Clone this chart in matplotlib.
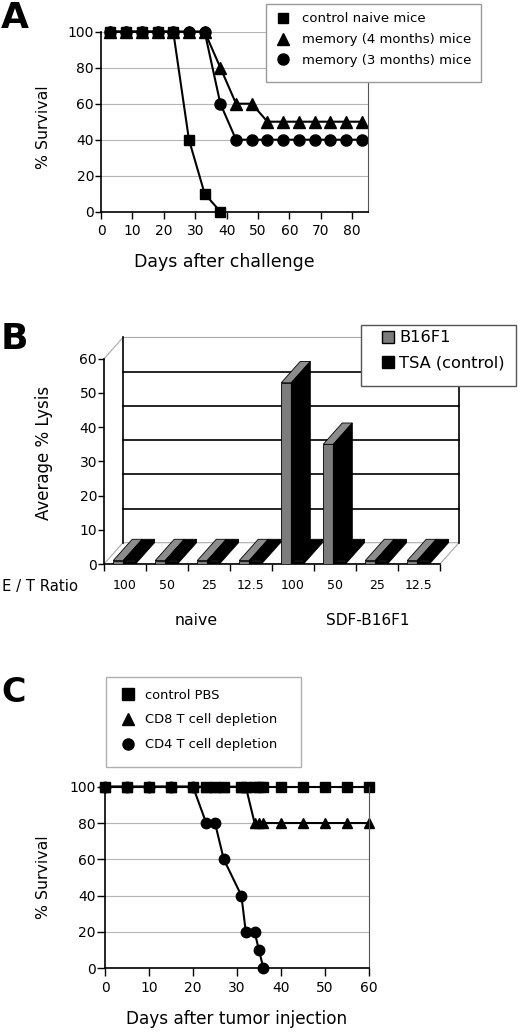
import matplotlib
matplotlib.use("Agg")
import matplotlib.pyplot as plt
from matplotlib.patches import Polygon, Rectangle
from matplotlib.lines import Line2D

plt.rcParams['font.family'] = ['DejaVu Sans']

# ---------------- data ----------------
# A: survival after challenge
days_a = [3, 8, 13, 18, 23, 28, 33, 38, 43, 48, 53, 58, 63, 68, 73, 78, 83]
control_naive = [100, 100, 100, 100, 100, 40, 10, 0]
memory_4m = [100, 100, 100, 100, 100, 100, 100, 80, 60, 60, 50, 50, 50, 50, 50, 50, 50]
memory_3m = [100, 100, 100, 100, 100, 100, 100, 60, 40, 40, 40, 40, 40, 40, 40, 40, 40]

# B: average % lysis
et_ratios = ['100', '50', '25', '12.5', '100', '50', '25', '12.5']
groups = ['naive', 'SDF-B16F1']
lysis_b16f1 = [1, 1, 1, 1, 53, 35, 1, 1]
lysis_tsa = [1, 1, 1, 1, 1, 1, 1, 1]

# C: survival after tumor injection
days_c = [0, 5, 10, 15, 20, 23, 25, 27, 31, 32, 34, 35, 36, 40, 45, 50, 55, 60]
control_pbs = [100] * 18
cd8_depl = [100, 100, 100, 100, 100, 100, 100, 100, 100, 100, 80, 80, 80, 80, 80, 80, 80, 80]
cd4_depl = [100, 100, 100, 100, 100, 80, 80, 60, 40, 20, 20, 10, 0]

W, H = 520, 1033
fig = plt.figure(figsize=(W / 100, H / 100), dpi=100)


def rect(l, t, r, b):
    return [l / W, 1 - b / H, (r - l) / W, (b - t) / H]


def fx(px):
    return px / W


def fy(py):
    return 1 - py / H


def frame(l, t, r, b, ec='#9a9a9a'):
    fig.patches.append(Rectangle((fx(l), fy(b)), (r - l) / W, (b - t) / H,
                                 transform=fig.transFigure, facecolor='white',
                                 edgecolor=ec, lw=1, zorder=1))


def survival_axes(ax, xmax, xstep):
    ax.set_ylim(0, 100)
    ax.set_yticks(range(0, 101, 20))
    ax.set_xticks(range(0, xmax + 1, xstep))
    ax.grid(axis='y', color='#b5b5b5', lw=0.8)
    ax.set_axisbelow(True)
    ax.spines['top'].set_visible(False)
    ax.spines['right'].set_color('#555555')
    for s in ['left', 'bottom']:
        ax.spines[s].set_linewidth(1.2)
    ax.tick_params(axis='x', direction='out', length=5, width=1, pad=4, labelsize=10)
    ax.tick_params(axis='y', direction='out', length=4, width=1, pad=1, labelsize=10)


# ---------------- panel A ----------------
ax_a = fig.add_axes(rect(101, 31.7, 368, 211.7))
ax_a.set_xlim(0, 85)
survival_axes(ax_a, 80, 10)
ax_a.plot(days_a, memory_4m, '-^', color='black', ms=8, lw=1.5, clip_on=False)
ax_a.plot(days_a, memory_3m, '-o', color='black', ms=8, lw=1.5, clip_on=False)
ax_a.plot(days_a[:len(control_naive)], control_naive, '-s', color='black', ms=7.5,
          lw=1.5, clip_on=False)
fig.text(fx(43), fy(127), '% Survival', rotation=90, ha='center', va='center', fontsize=11.3)
fig.text(fx(224), fy(262), 'Days after challenge', ha='center', va='center', fontsize=12.5)
fig.text(fx(1), fy(1), 'A', fontsize=26, fontweight='bold', va='top')

frame(266, 4, 481, 82)
h_a = [Line2D([], [], ls='none', marker=m, color='black', ms=ms)
       for m, ms in [('s', 7.5), ('^', 8), ('o', 8)]]
fig.legend(h_a, ['control naive mice', 'memory (4 months) mice', 'memory (3 months) mice'],
           loc='upper left', bbox_to_anchor=(fx(276.4), fy(12.5)), frameon=False,
           fontsize=9.5, handlelength=1.0, handletextpad=0.94, labelspacing=0.58,
           borderpad=0, borderaxespad=0)

# ---------------- panel B (pseudo 3D columns) ----------------
ax_b = fig.add_axes(rect(104, 330, 470, 564))
px_x = 42.0   # px per category
px_y = 3.42   # px per % unit
ax_b.set_xlim(0, 366 / px_x)
ax_b.set_ylim(0, 234 / px_y)
ddx, ddy = 19 / px_x, 21.3 / px_y
n = len(et_ratios)

# walls and floor
ax_b.add_patch(Polygon([(0, 0), (n, 0), (n + ddx, ddy), (ddx, ddy)], closed=True,
                       facecolor='white', edgecolor='#aaaaaa', lw=0.8, zorder=1))
for v in range(10, 60, 10):
    ax_b.plot([ddx, n + ddx], [v + ddy, v + ddy], color='black', lw=1.2, zorder=1)
ax_b.plot([ddx, n + ddx], [60 + ddy, 60 + ddy], color='#aaaaaa', lw=0.8, zorder=1)
ax_b.plot([0, ddx], [60, 60 + ddy], color='#aaaaaa', lw=0.8, zorder=1)
ax_b.plot([ddx, ddx], [ddy, 60 + ddy], color='black', lw=1.2, zorder=1)
ax_b.plot([n + ddx, n + ddx], [ddy, 60 + ddy], color='black', lw=1.2, zorder=1)

centers = [i + 0.5 for i in range(n)]


def box_bars(vals, off0, off1, c_front, c_top, c_side, z):
    x0s = [c + off0 for c in centers]
    ax_b.bar(x0s, vals, width=off1 - off0, align='edge', color=c_front,
             edgecolor='black', lw=0.6, zorder=z)
    for x0, v in zip(x0s, vals):
        x1 = x0 + off1 - off0
        ax_b.add_patch(Polygon([(x0, v), (x1, v), (x1 + ddx, v + ddy), (x0 + ddx, v + ddy)],
                               closed=True, facecolor=c_top, edgecolor='black', lw=0.6, zorder=z))
        ax_b.add_patch(Polygon([(x1, 0), (x1 + ddx, ddy), (x1 + ddx, v + ddy), (x1, v)],
                               closed=True, facecolor=c_side, edgecolor='black', lw=0.6, zorder=z))


box_bars(lysis_b16f1, -0.28, -0.04, '#7c7c7c', '#8c8c8c', 'black', 3)
box_bars(lysis_tsa, -0.04, 0.25, 'black', 'black', 'black', 4)

ax_b.spines['top'].set_visible(False)
ax_b.spines['right'].set_visible(False)
ax_b.spines['left'].set_bounds(0, 60)
ax_b.spines['bottom'].set_bounds(0, n)
ax_b.spines['left'].set_linewidth(1.2)
ax_b.spines['bottom'].set_linewidth(1.2)
ax_b.set_yticks(range(0, 61, 10))
ax_b.set_xticks(range(0, n + 1))
ax_b.set_xticklabels([])
ax_b.set_xticks(centers, minor=True)
ax_b.set_xticklabels(et_ratios, minor=True)
ax_b.tick_params(axis='x', which='major', direction='out', length=5, width=1)
ax_b.tick_params(axis='x', which='minor', length=0, pad=11, labelsize=9)
ax_b.tick_params(axis='y', direction='out', length=4, width=1, pad=1, labelsize=10)
ax_b.set_facecolor('none')

fig.text(fx(44), fy(453), 'Average % Lysis', rotation=90, ha='center', va='center', fontsize=12)
fig.text(fx(2), fy(587), 'E / T Ratio', ha='left', va='center', fontsize=10.7)
fig.text(fx(196), fy(625), groups[0], ha='center', va='baseline', fontsize=11.3)
fig.text(fx(368), fy(625), groups[1], ha='center', va='baseline', fontsize=11)
fig.text(fx(1), fy(322), 'B', fontsize=26, fontweight='bold', va='top')

frame(361, 325, 516, 386, ec='#555555')
h_b = [Line2D([], [], ls='none', marker='s', mfc=c, mec='black', ms=9)
       for c in ['#7c7c7c', 'black']]
fig.legend(h_b, ['B16F1', 'TSA (control)'], loc='upper left',
           bbox_to_anchor=(fx(381.5), fy(330.5)), frameon=False, fontsize=11.7,
           handlelength=0.8, handletextpad=0.28, labelspacing=0.62,
           borderpad=0, borderaxespad=0)

# ---------------- panel C ----------------
ax_c = fig.add_axes(rect(105, 786.7, 369, 968.3))
ax_c.set_xlim(0, 60)
survival_axes(ax_c, 60, 10)
ax_c.tick_params(axis='x', length=5.5, pad=4)
ax_c.tick_params(axis='y', length=5.5, pad=1)
ax_c.plot(days_c, cd8_depl, '-^', color='black', ms=7, lw=1.5, clip_on=False)
ax_c.plot(days_c[:len(cd4_depl)], cd4_depl, '-o', color='black', ms=7.5, lw=1.5, clip_on=False)
ax_c.plot(days_c, control_pbs, '-s', color='black', ms=7, lw=1.5, clip_on=False)
fig.text(fx(43), fy(877), '% Survival', rotation=90, ha='center', va='center', fontsize=11.3)
fig.text(fx(237), fy(1019), 'Days after tumor injection', ha='center', va='center',
         fontsize=12.2)
fig.text(fx(1), fy(676), 'C', fontsize=24, fontweight='bold', va='top')

frame(106, 677, 301, 767, ec='#b0b0b0')
h_c = [Line2D([], [], ls='none', marker=m, color='black', ms=ms)
       for m, ms in [('s', 8), ('^', 8), ('o', 8)]]
fig.legend(h_c, ['control PBS', 'CD8 T cell depletion', 'CD4 T cell depletion'],
           loc='upper left', bbox_to_anchor=(fx(121.6), fy(688.6)), frameon=False,
           fontsize=9.4, handlelength=1.0, handletextpad=0.8, labelspacing=0.9,
           borderpad=0, borderaxespad=0)

fig.savefig('out.png', dpi=100)
